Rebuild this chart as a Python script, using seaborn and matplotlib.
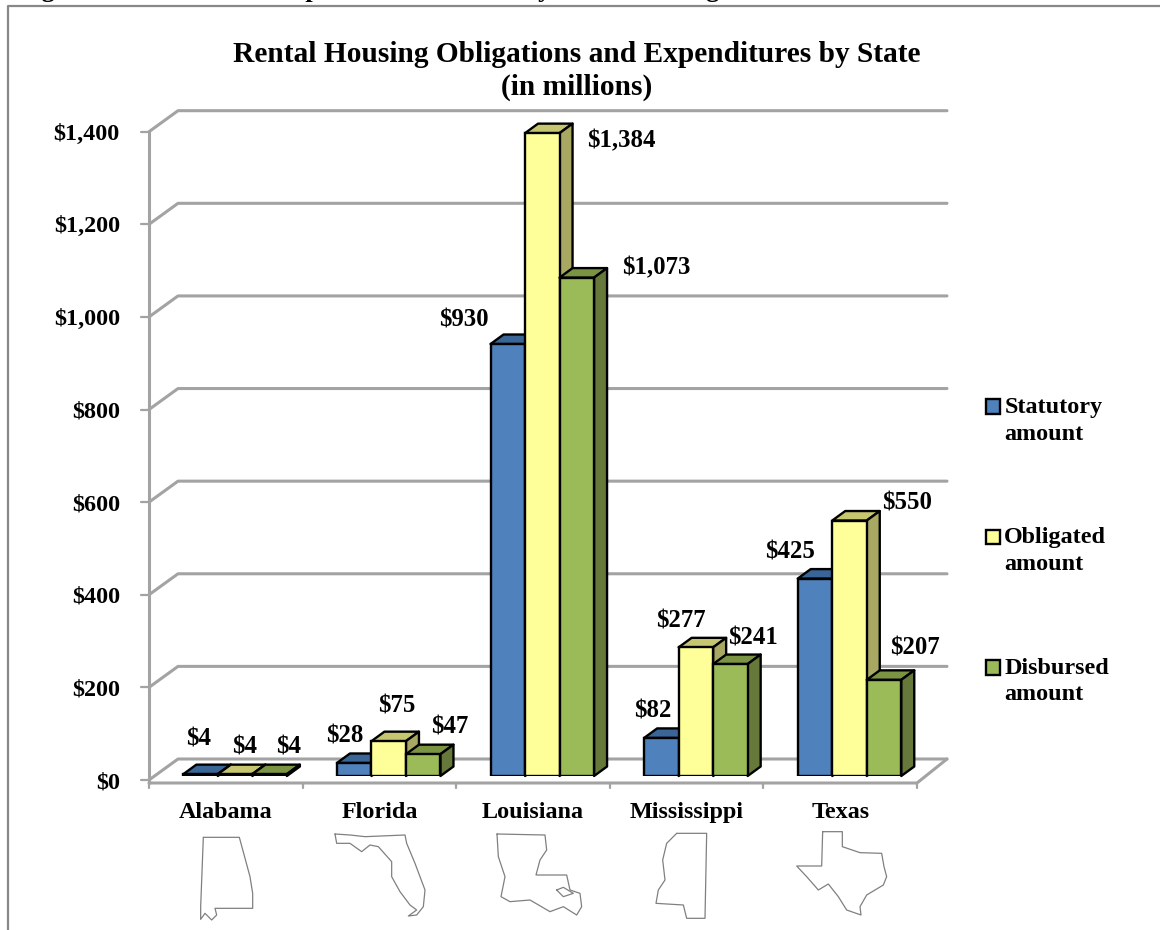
import matplotlib
matplotlib.use('Agg')
import matplotlib.pyplot as plt
from matplotlib.legend_handler import HandlerPatch
from matplotlib.lines import Line2D
from matplotlib.patches import Patch, Polygon, Rectangle
import pandas as pd
import seaborn as sns

# datos
states = ['Alabama', 'Florida', 'Louisiana', 'Mississippi', 'Texas']
statutory = [4, 28, 930, 82, 425]
obligated = [4, 75, 1384, 277, 550]
disbursed = [4, 47, 1073, 241, 207]
series_names = ['Statutory\namount', 'Obligated\namount', 'Disbursed\namount']
y_ticks = [0, 200, 400, 600, 800, 1000, 1200, 1400]

# colores: frente, tapa, lado
front_colors = ['#4F81BD', '#FFFF99', '#9BBB59']
top_colors = ['#3A6597', '#C6C670', '#7B9443']
side_colors = ['#32577F', '#A8A863', '#66793A']
GRAY = '#A3A3A3'

# desplazamiento de cada etiqueta respecto a la tapa de su barra (pixeles)
label_offsets = [
    [(-2, 35), (-9, 27), (-44, 24), (-9, 27), (-25, 27)],
    [(9, 27), (8, 35), (79, -8), (-15, 26), (58, 18)],
    [(19, 27), (27, 27), (79, 10), (23, 26), (31, 32)],
]

W, H = 1160, 930
sns.set_style('white')
plt.rcParams['font.family'] = ['Liberation Serif', 'DejaVu Serif']
plt.rcParams['text.color'] = 'black'
plt.rcParams['xtick.labelcolor'] = 'black'
plt.rcParams['ytick.labelcolor'] = 'black'

fig = plt.figure(figsize=(W / 100, H / 100), dpi=100)


def add_axes_px(left, top, right, bottom, **kw):
    return fig.add_axes([left / W, 1 - bottom / H, (right - left) / W, (bottom - top) / H], **kw)


# Ejes del marco: paredes, piso y marcas
ax = add_axes_px(149, 131.7, 917, 780)
ax.set_xlim(-0.5, 4.5)
ax.set_ylim(0, 1400)
ax.patch.set_alpha(0)
for s in ax.spines.values():
    s.set_visible(False)

px_x = 5 / 768  # unidades de categoria por pixel
px_y = 1400 / 648.3  # dolares por pixel
wall_dx, wall_dy = 29 * px_x, 21 * px_y
line_kw = dict(color=GRAY, lw=2.2, clip_on=False, solid_capstyle='round', zorder=1)

for t in y_ticks:
    ax.plot([-0.5, -0.5 + wall_dx, 4.5 + 1 * px_x + wall_dx],
            [t, t + wall_dy, t + wall_dy], **line_kw)
    ax.plot([-0.5 - 8 * px_x, -0.5], [t, t], color=GRAY, lw=1.6, clip_on=False)

floor_y = -3 * px_y
ax.plot([-0.5, -0.5], [1400, floor_y], **line_kw)
ax.plot([-0.5, 4.5, 4.5 + 30 * px_x], [floor_y, floor_y, wall_dy], **line_kw)
for c in range(6):
    ax.plot([c - 0.5, c - 0.5], [floor_y, floor_y - 5 * px_y], color=GRAY, lw=1.6, clip_on=False)

ax.set_yticks(y_ticks)
ax.set_yticklabels([f'${t:,}' for t in y_ticks], fontsize=17.4, fontweight='bold')
ax.set_xticks(range(len(states)))
ax.set_xticklabels(states, fontsize=17.4, fontweight='bold')
ax.tick_params(axis='y', length=0, pad=21)
ax.tick_params(axis='x', length=0, pad=15.5)

# Ejes de las barras, un poco corridos respecto al marco
ax_bars = add_axes_px(149 + 9.3, 776 - 1400 * 0.4645, 917 + 9.3, 776, sharex=None)
ax_bars.patch.set_alpha(0)
df = pd.DataFrame({'state': states * 3,
                   'serie': [n for n in series_names for _ in states],
                   'valor': statutory + obligated + disbursed})
sns.barplot(data=df, x='state', y='valor', hue='serie', order=states, hue_order=series_names,
            palette=front_colors, width=0.674, gap=0, saturation=1, edgecolor='black',
            linewidth=1.7, legend=False, errorbar=None, ax=ax_bars, zorder=3)
ax_bars.set_xlim(-0.5, 4.5)
ax_bars.set_ylim(0, 1400)
ax_bars.axis('off')

# Caras de profundidad a partir de cada barra
depth_x = 13 * px_x
depth_y = 9.5 / 0.4645
for h, container in enumerate(ax_bars.containers):
    for i, bar in enumerate(container):
        x0, w, v = bar.get_x(), bar.get_width(), bar.get_height()
        z = 2 + h * 2
        bar.set_zorder(z + 1)
        ax_bars.add_patch(Polygon([(x0, v), (x0 + depth_x, v + depth_y), (x0 + w + depth_x, v + depth_y), (x0 + w, v)],
                                  fc=top_colors[h], ec='black', lw=1.7, zorder=z, joinstyle='round', clip_on=False))
        ax_bars.add_patch(Polygon([(x0 + w, 0), (x0 + w + depth_x, depth_y), (x0 + w + depth_x, v + depth_y), (x0 + w, v)],
                                  fc=side_colors[h], ec='black', lw=1.7, zorder=z, joinstyle='round', clip_on=False))
        ax_bars.annotate(f'${v:,.0f}', (x0 + w / 2, v), xycoords='data',
                         xytext=label_offsets[h][i], textcoords='offset pixels',
                         ha='center', va='center', fontsize=17.8, fontweight='bold', zorder=20,
                         annotation_clip=False)


# Leyenda: el cuadrito va a la altura de la primera linea
def legend_square(legend, orig_handle, xdescent, ydescent, width, height, fontsize):
    return Rectangle((-xdescent, -ydescent + 9.8), width, height)


handles = [Patch(fc=c, ec='black', lw=1.7) for c in front_colors]
leg = fig.legend(handles, series_names, loc='upper left', bbox_to_anchor=(986 / W, 1 - 397 / H),
                 frameon=False, prop={'size': 17.4, 'weight': 'bold'}, handlelength=0.56, handleheight=0.56,
                 handletextpad=0.2, labelspacing=3.42, borderpad=0, borderaxespad=0,
                 handler_map={Patch: HandlerPatch(patch_func=legend_square)})
for txt in leg.get_texts():
    txt.set_linespacing(1.35)

# Titulo y encabezado recortado de la pagina
fig.text(577 / W, 1 - 54 / H, 'Rental Housing Obligations and Expenditures by State',
         ha='center', va='center', fontsize=21.2, fontweight='bold')
fig.text(577 / W, 1 - 87 / H, '(in millions)', ha='center', va='center', fontsize=21.2, fontweight='bold')
fig.text(18 / W, 1 + 2.5 / H, "Figure 6: The States' compliance with statutory rental housing mandates",
         ha='left', va='baseline', fontsize=19, fontweight='bold')

# Borde de la imagen (sin lado derecho)
fig.add_artist(Line2D([8 / W, 8 / W, 1], [0, 1 - 6 / H, 1 - 6 / H], color='#888888', lw=1.6))

# Siluetas de los estados, trazadas a mano sobre el zoom x3
outlines = {
    'Alabama': (130, 680, [(220, 472), (328, 472), (360, 590), (368, 640), (368, 685), (255, 685), (260, 705),
                           (245, 720), (225, 700), (212, 718), (212, 680), (220, 472)]),
    'Florida': (130, 680, [(615, 462), (660, 465), (705, 470), (825, 465), (830, 490), (855, 550), (885, 630),
                           (880, 680), (860, 705), (835, 708), (860, 690), (840, 675), (810, 635), (785, 590),
                           (785, 545), (745, 500), (720, 495), (695, 515), (660, 490), (620, 490), (615, 462)]),
    'Louisiana': (530, 680, [(-99, 462), (45, 465), (50, 510), (30, 540), (18, 585), (110, 585), (120, 630),
                             (150, 640), (155, 680), (140, 705), (100, 680), (60, 695), (0, 660), (-60, 665),
                             (-87, 650), (-75, 590), (-95, 530), (-99, 462)]),
    'Louisiana2': (530, 680, [(80, 630), (100, 622), (130, 640), (100, 650), (80, 630)]),
    'Mississippi': (530, 680, [(440, 460), (530, 460), (525, 715), (470, 715), (460, 675), (378, 670), (385, 630),
                               (405, 600), (398, 540), (410, 490), (440, 460)]),
    'Texas': (530, 680, [(878, 455), (937, 455), (937, 500), (990, 518), (1055, 520), (1062, 560), (1070, 590),
                         (1060, 615), (1010, 645), (990, 680), (993, 705), (950, 690), (925, 650), (895, 612),
                         (865, 630), (830, 590), (800, 558), (875, 558), (878, 455)]),
}
for name, (ox, oy, pts) in outlines.items():
    xs = [(ox + p[0] / 3) / W for p in pts]
    ys = [1 - (oy + p[1] / 3) / H for p in pts]
    fig.add_artist(Line2D(xs, ys, color='#808080', lw=0.9))

fig.savefig('out.png', dpi=100)
